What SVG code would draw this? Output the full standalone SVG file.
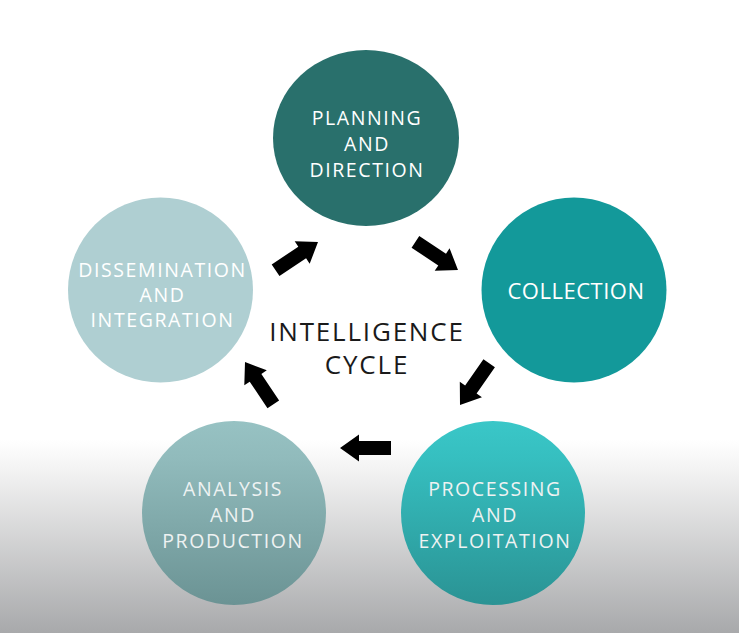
<svg xmlns="http://www.w3.org/2000/svg" xmlns:xlink="http://www.w3.org/1999/xlink" width="739" height="633" viewBox="0 0 739 633">
  <defs>
    <linearGradient id="bg" gradientUnits="userSpaceOnUse" x1="0" y1="0" x2="0" y2="633">
      <stop offset="0" stop-color="#ffffff"/>
      <stop offset="0.695" stop-color="#ffffff"/>
      <stop offset="0.745" stop-color="#f2f2f2"/>
      <stop offset="1" stop-color="#a8a9ab"/>
    </linearGradient>
    <linearGradient id="gProc" gradientUnits="userSpaceOnUse" x1="0" y1="421" x2="0" y2="605">
      <stop offset="0" stop-color="#3ac7c8"/>
      <stop offset="0.2" stop-color="#36bfc0"/>
      <stop offset="1" stop-color="#2a9394"/>
    </linearGradient>
    <linearGradient id="gAna" gradientUnits="userSpaceOnUse" x1="0" y1="421" x2="0" y2="605">
      <stop offset="0" stop-color="#97c2c3"/>
      <stop offset="0.2" stop-color="#91bbbc"/>
      <stop offset="1" stop-color="#6b9394"/>
    </linearGradient>
    <path id="arr" d="M-51,-7 H-19 V-13.5 L0,0 L-19,13.5 V7 H-51 Z"/>
  </defs>
  <style>
    .lbl { font-family: "Open Sans", "DejaVu Sans", sans-serif; font-size: 19.5px; letter-spacing: 1.6px; fill: #ffffff; text-anchor: middle; }
    .lblb { font-family: "Open Sans", "DejaVu Sans", sans-serif; font-size: 19.5px; letter-spacing: 1.6px; fill: #eef2f2; text-anchor: middle; }
    .title { font-family: "Open Sans", "DejaVu Sans", sans-serif; font-size: 26px; letter-spacing: 1.8px; fill: #1a1a1a; text-anchor: middle; }
    .arrow { fill: #000000; }
  </style>
  <rect x="0" y="0" width="739" height="633" fill="url(#bg)"/>

  <g id="planning">
    <ellipse cx="366" cy="138" rx="93" ry="88" fill="#29706c"/>
    <text class="lbl" x="367" y="125">PLANNING</text>
    <text class="lbl" x="367" y="151">AND</text>
    <text class="lbl" x="367" y="177">DIRECTION</text>
  </g>
  <g id="collection">
    <circle cx="574" cy="290" r="92.5" fill="#13999a"/>
    <text class="lbl" x="576" y="299" style="font-size:22px;letter-spacing:0.5px">COLLECTION</text>
  </g>
  <g id="processing">
    <circle cx="493" cy="513" r="92" fill="url(#gProc)"/>
    <text class="lblb" x="495" y="496">PROCESSING</text>
    <text class="lblb" x="495" y="522">AND</text>
    <text class="lblb" x="495" y="548">EXPLOITATION</text>
  </g>
  <g id="analysis">
    <circle cx="234" cy="513" r="92" fill="url(#gAna)"/>
    <text class="lblb" x="233" y="496">ANALYSIS</text>
    <text class="lblb" x="233" y="522">AND</text>
    <text class="lblb" x="233" y="548">PRODUCTION</text>
  </g>
  <g id="dissemination">
    <circle cx="160.5" cy="290" r="92.5" fill="#afcfd2"/>
    <text class="lbl" x="162.5" y="277">DISSEMINATION</text>
    <text class="lbl" x="162.5" y="302">AND</text>
    <text class="lbl" x="162.5" y="327">INTEGRATION</text>
  </g>

  <g id="title">
    <text class="title" x="367" y="341">INTELLIGENCE</text>
    <text class="title" x="367" y="374">CYCLE</text>
  </g>

  <g id="connectors">
    <use xlink:href="#arr" class="arrow" transform="translate(318,242) rotate(-33.7)"/>
    <use xlink:href="#arr" class="arrow" transform="translate(458,270) rotate(33.4)"/>
    <use xlink:href="#arr" class="arrow" transform="translate(460,405) rotate(124.9)"/>
    <use xlink:href="#arr" class="arrow" transform="translate(340,448) rotate(180)"/>
    <use xlink:href="#arr" class="arrow" transform="translate(245,362) rotate(-123.7)"/>
  </g>
</svg>
